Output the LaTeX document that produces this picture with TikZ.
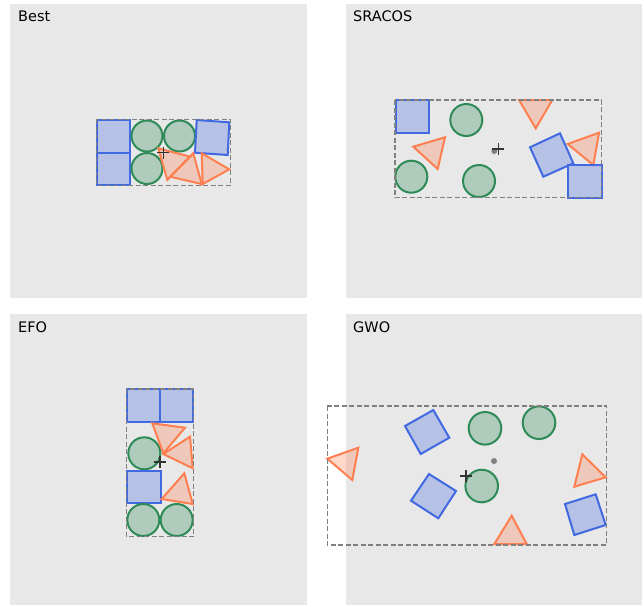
\documentclass[tikz,border=0pt]{standalone}
\usepackage{fontspec}
\setmainfont{DejaVu Sans}
\definecolor{panelbg}{HTML}{E8E8E8}
\definecolor{sqedge}{HTML}{4169E1}
\definecolor{ciredge}{HTML}{2E8B57}
\definecolor{triedge}{HTML}{FF7F50}
\tikzset{
  panel/.style={fill=panelbg, draw=none},
  sq/.style={draw=sqedge, fill=sqedge, fill opacity=0.3, draw opacity=1, line width=2pt, line join=miter},
  cir/.style={draw=ciredge, fill=ciredge, fill opacity=0.3, draw opacity=1, line width=2pt},
  tri/.style={draw=triedge, fill=triedge, fill opacity=0.3, draw opacity=1, line width=2pt, line join=miter},
  bbox/.style={draw=gray, dash pattern=on 5pt off 2.5pt, line width=1.5pt},
  ptitle/.style={anchor=base west, font=\fontsize{14.5}{17}\selectfont, inner sep=0pt},
  centre/.style={draw=black!80, line width=1.3pt},
  gdot/.style={fill=gray, draw=none}
}
\begin{document}
\begin{tikzpicture}[x=1pt,y=-1pt]
\useasboundingbox (0,0) rectangle (644,606);
\fill[white] (0,0) rectangle (644,606);
% panels
\fill[panel] (10,4) rectangle (307,298);
\fill[panel] (346,4) rectangle (642,298);
\fill[panel] (10,314) rectangle (307,605);
\fill[panel] (346,314) rectangle (642,605);
\node[ptitle] (t1) at (18,21.7) {Best};
\node[ptitle] (t2) at (353,21.7) {SRACOS};
\node[ptitle] (t3) at (18,332) {EFO};
\node[ptitle] (t4) at (353,332) {GWO};

% ---------- Best ----------
\draw[sq] (97,120) rectangle (130,152.5);
\draw[sq] (97,152.5) rectangle (130,185);
\draw[cir] (147,136) circle (15.5);
\draw[cir] (179.5,136) circle (15.5);
\draw[cir] (147,168.5) circle (15.5);
\draw[sq] (196.7,120) -- (229.3,122.3) -- (227.7,155) -- (195,152.7) -- cycle;
\draw[tri] (158.3,148.3) -- (190,156.7) -- (167.3,180) -- cycle;
\draw[tri] (170,176.7) -- (193.3,153.3) -- (201.7,184) -- cycle;
\draw[tri] (201.7,153.3) -- (229.3,169.3) -- (202.7,184) -- cycle;
\draw[bbox] (96.7,119.3) rectangle (230.7,185.3);
\draw[centre] (157.3,152.7) -- (169.3,152.7) (163.3,146.7) -- (163.3,158.7);

% ---------- SRACOS ----------
\draw[sq] (396,100) rectangle (429.3,132.7);
\draw[cir] (466.3,120) circle (16);
\draw[cir] (411.3,176.7) circle (16);
\draw[cir] (479,181) circle (16);
\draw[tri] (519,100) -- (552.3,100) -- (535.7,128.3) -- cycle;
\draw[tri] (413.3,146.7) -- (445,137.3) -- (437.7,169) -- cycle;
\draw[sq] (530,147.3) -- (560,133.3) -- (573.3,163.3) -- (543.3,176.7) -- cycle;
\draw[tri] (567.7,144) -- (599,132.7) -- (593.3,165) -- cycle;
\draw[sq] (568.3,165) rectangle (601.7,197.7);
\draw[bbox] (395,100) rectangle (601.7,197.7);
\fill[gdot] (494.3,151) circle (3);
\draw[centre] (492.3,149) -- (504.3,149) (498.3,143) -- (498.3,155);

% ---------- EFO ----------
\draw[sq] (126.7,389) rectangle (160,421.7);
\draw[sq] (160,389) rectangle (193.3,421.7);
\draw[cir] (144.3,453.3) circle (16);
\draw[sq] (127.3,470.7) rectangle (160.7,503.3);
\draw[cir] (143.3,520) circle (16);
\draw[cir] (176.7,520) circle (16);
\draw[tri] (152.3,423.3) -- (185,427.7) -- (163.3,453.3) -- cycle;
\draw[tri] (163.3,454) -- (190,436.7) -- (192.7,468.3) -- cycle;
\draw[tri] (161.7,499) -- (184.3,473.3) -- (192.7,504) -- cycle;
\draw[bbox] (126.7,389) rectangle (193.3,536.7);
\draw[centre] (154,462) -- (166,462) (160,456) -- (160,468);

% ---------- GWO ----------
\draw[sq] (405,426) -- (433.3,410) -- (449.3,437.7) -- (420.7,454) -- cycle;
\draw[cir] (485,428.3) circle (16.3);
\draw[cir] (539,422.7) circle (16.3);
\draw[cir] (481.7,486) circle (16.3);
\draw[sq] (411,500.7) -- (429,474) -- (456,491) -- (438.3,518.3) -- cycle;
\draw[tri] (327.3,458.7) -- (358.3,447.7) -- (352.3,480) -- cycle;
\draw[tri] (582.3,454.3) -- (605.7,477.3) -- (574.3,486.7) -- cycle;
\draw[tri] (511.7,515.7) -- (494.3,544) -- (526.7,544) -- cycle;
\draw[sq] (565,504) -- (595.7,494.3) -- (605.7,525) -- (574.3,535) -- cycle;
\draw[bbox] (327.3,406) rectangle (606.7,545);
\fill[gdot] (494,461) circle (3);
\draw[centre] (460,476) -- (472,476) (466,470) -- (466,482);
\end{tikzpicture}
\end{document}
